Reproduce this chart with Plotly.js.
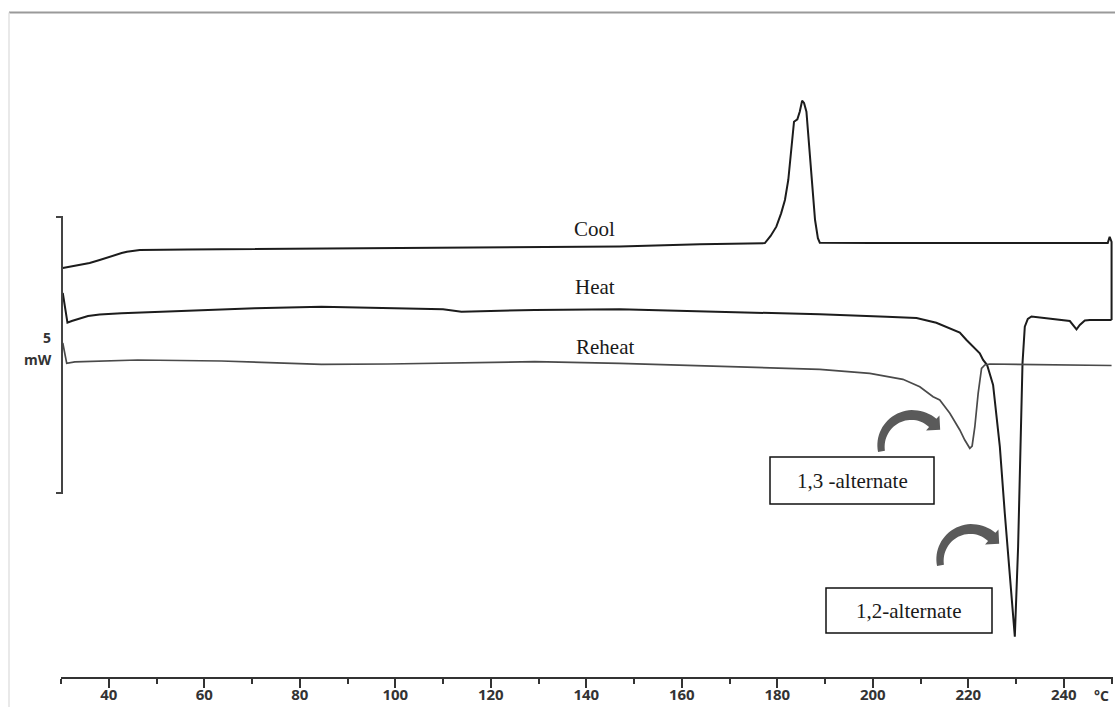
<!DOCTYPE html>
<html>
<head>
<meta charset="utf-8">
<script src="https://cdn.plot.ly/plotly-3.0.1.min.js"></script>
<style>
  html, body { margin: 0; padding: 0; background: #ffffff; }
  #chart { width: 1115px; height: 707px; }
</style>
</head>
<body>
<div id="chart"></div>
<script>
// DSC thermogram: heat, cool and reheat scans (heat flow in mW vs temperature in °C)

// Cool scan (listed by temperature; ends with the jump back to the heat trace at 250 °C)
const coolT  = [30.37, 32.9, 36.0, 38.1, 40.6, 42.7, 43.8, 46.5, 56.5, 84.5, 113.5, 130.0, 147.0, 163.8,
                176.3, 177.4, 178.6, 179.8, 180.8, 181.6, 182.3, 183.0, 183.5, 184.2, 184.7, 185.2, 185.6, 186.1,
                186.7, 187.2, 187.9, 188.5, 188.9, 200.0, 220.0, 240.0, 249.2, 249.6, 250.0, 250.0];
const coolMW = [7.41, 7.45, 7.50, 7.554, 7.627, 7.68, 7.705, 7.736, 7.745, 7.763, 7.772, 7.784, 7.80, 7.839,
                7.85, 7.86, 7.99, 8.158, 8.40, 8.641, 9.004, 9.607, 10.06, 10.103, 10.241, 10.44, 10.40, 10.241,
                9.607, 9.004, 8.283, 7.95, 7.868, 7.862, 7.86, 7.857, 7.86, 7.976, 7.88, 6.467];

// First heating scan
const heatT  = [30.37, 30.9, 31.35, 32.25, 33.9, 35.66, 38.1, 42.66, 56.6, 70.58, 84.54, 98.5, 106.0, 110.0,
                113.86, 129.2, 147.0, 167.96, 188.9, 202.87, 209.15, 213.3, 216.13, 218.22, 219.62, 221.0, 222.4,
                223.1, 223.94, 225.19, 226.6, 227.64, 228.69, 229.74, 230.43, 230.93, 231.35, 231.83, 232.46,
                233.23, 237.07, 240.56, 241.26, 242.66, 243.35, 244.4, 245.45, 250.0];
const heatMW = [6.957, 6.649, 6.418, 6.449, 6.495, 6.540, 6.567, 6.589, 6.636, 6.679, 6.708, 6.685, 6.679, 6.66,
                6.618, 6.649, 6.661, 6.618, 6.571, 6.527, 6.504, 6.418, 6.322, 6.24, 6.105, 5.978, 5.864,
                5.743, 5.652, 5.290, 4.172, 2.966, 1.757, 0.730, 2.361, 4.172, 5.683, 6.346, 6.486,
                6.531, 6.495, 6.467, 6.449, 6.299, 6.377, 6.458, 6.467, 6.467];

// Second heating scan
const reheatT  = [30.37, 30.9, 31.2, 32.9, 35.6, 46.07, 63.6, 77.49, 84.54, 98.43, 129.2, 147.0, 167.96, 188.9,
                  199.37, 206.3, 209.84, 212.62, 214.02, 216.13, 218.22, 219.26, 220.31, 220.8, 221.37, 222.06,
                  222.77, 223.46, 224.5, 237.07, 250.0];
const reheatMW = [6.051, 5.815, 5.683, 5.707, 5.712, 5.743, 5.725, 5.683, 5.665, 5.670, 5.712, 5.683, 5.634, 5.574,
                  5.502, 5.393, 5.259, 5.078, 5.018, 4.777, 4.475, 4.293, 4.143, 4.185, 4.534, 5.139,
                  5.592, 5.652, 5.670, 5.661, 5.643];

const curveNames = ['Cool', 'Heat', 'Reheat'];
const curveLabelT  = [141.8, 141.8, 144.0];
const curveLabelMW = [8.116, 7.065, 5.978];

const peakNames = ['1,3 -alternate', '1,2-alternate'];

const scaleBarMW = 5;          // height of the scale bar
const scaleBarBase = 3.333;    // where the bar starts on the heat-flow axis
const X_RANGE = [30, 250.3];
const Y_RANGE = [0, 12.047];

// plot box in pixels
const L = 61, T = 12, W = 1052, H = 665;
const px = v => (v - L) / W;          // pixel x -> paper x
const py = v => (T + H - v) / H;      // pixel y -> paper y
const mwToPaper = v => (v - Y_RANGE[0]) / (Y_RANGE[1] - Y_RANGE[0]);

// curved block arrow (centre, radius, start/end angle in screen degrees)
function curvedArrow(cx, cy, r, a0, a1, w0, w1, hw, hl) {
  const N = 30, outer = [], inner = [];
  for (let i = 0; i <= N; i++) {
    const a = (a0 + (a1 - a0) * i / N) * Math.PI / 180;
    const w = w0 + (w1 - w0) * i / N;
    outer.push([cx + (r + w / 2) * Math.cos(a), cy + (r + w / 2) * Math.sin(a)]);
    inner.push([cx + (r - w / 2) * Math.cos(a), cy + (r - w / 2) * Math.sin(a)]);
  }
  const ae = a1 * Math.PI / 180;
  const n = [Math.cos(ae), Math.sin(ae)];
  const d = [-Math.sin(ae), Math.cos(ae)];
  const P = [cx + r * n[0], cy + r * n[1]];
  const hOut = [P[0] + n[0] * hw / 2, P[1] + n[1] * hw / 2];
  const hIn  = [P[0] - n[0] * hw / 2, P[1] - n[1] * hw / 2];
  const tip  = [P[0] + d[0] * hl, P[1] + d[1] * hl];
  const pts = outer.concat([hOut, tip, hIn], inner.slice().reverse());
  return pts.map((p, i) => (i === 0 ? 'M' : 'L') + px(p[0]).toFixed(5) + ',' + py(p[1]).toFixed(5)).join(' ') + ' Z';
}

const lineDark = '#1c1c1c';
const traces = [
  { x: heatT,   y: heatMW,   mode: 'lines', name: curveNames[1], line: { color: lineDark, width: 2 } },
  { x: coolT,   y: coolMW,   mode: 'lines', name: curveNames[0], line: { color: lineDark, width: 2 } },
  { x: reheatT, y: reheatMW, mode: 'lines', name: curveNames[2], line: { color: '#4a4a4a', width: 1.7 } }
];

const serif = { family: 'Liberation Serif, Times New Roman, serif', size: 21, color: '#1a1a1a' };
const sans = { family: 'Open Sans, sans-serif', size: 15, color: '#333333', weight: 700 };
const sansBold = { family: 'Open Sans, sans-serif', size: 14, color: '#333333', weight: 700 };

const annotations = curveNames.map((t, i) => ({
  x: curveLabelT[i], y: curveLabelMW[i], xref: 'x', yref: 'y', text: t,
  showarrow: false, font: serif, xanchor: 'center', yanchor: 'middle'
}));

// peak callout boxes (pixel rectangles)
const boxes = [
  { x0: 770, x1: 934, y0: 457, y1: 504 },
  { x0: 826, x1: 992, y0: 588, y1: 633 }
];
boxes.forEach((b, i) => annotations.push({
  x: px((b.x0 + b.x1) / 2), y: py((b.y0 + b.y1) / 2), xref: 'paper', yref: 'paper',
  text: peakNames[i], showarrow: false, font: serif, xanchor: 'center', yanchor: 'middle'
}));

// scale bar label and unit, temperature unit
annotations.push(
  { x: px(53), y: py(337), xref: 'paper', yref: 'paper', text: String(scaleBarMW),
    showarrow: false, xanchor: 'right', yanchor: 'middle', font: sansBold },
  { x: px(54), y: py(359), xref: 'paper', yref: 'paper', text: 'mW',
    showarrow: false, xanchor: 'right', yanchor: 'middle', font: sansBold },
  { x: px(1101), y: py(696), xref: 'paper', yref: 'paper', text: '°C',
    showarrow: false, xanchor: 'center', yanchor: 'middle', font: { family: 'Open Sans, sans-serif', size: 14, color: '#333333', weight: 700 } }
);

const barTop = mwToPaper(scaleBarBase + scaleBarMW), barBot = mwToPaper(scaleBarBase);
const shapes = [
  // outer frame edges
  { type: 'line', xref: 'paper', yref: 'paper', x0: px(9), x1: px(1115), y0: py(12.5), y1: py(12.5), line: { color: '#9a9a9a', width: 2 } },
  { type: 'line', xref: 'paper', yref: 'paper', x0: px(9), x1: px(9), y0: py(12.5), y1: py(707), line: { color: '#e2e2e2', width: 1.5 } },
  // 5 mW scale bar
  { type: 'path', xref: 'paper', yref: 'paper',
    path: 'M' + px(56) + ',' + barTop + ' L' + px(62) + ',' + barTop + ' L' + px(62) + ',' + barBot + ' L' + px(56) + ',' + barBot,
    line: { color: '#444444', width: 2 } },
  // curved arrows pointing at the two melting peaks
  { type: 'path', xref: 'paper', yref: 'paper', path: curvedArrow(912, 446, 31, 170, 312, 7, 11, 20, 10),
    fillcolor: '#5a5a5a', line: { width: 0 } },
  { type: 'path', xref: 'paper', yref: 'paper', path: curvedArrow(971, 560, 31, 170, 312, 7, 11, 20, 10),
    fillcolor: '#5a5a5a', line: { width: 0 } }
];
boxes.forEach(b => shapes.push({
  type: 'rect', xref: 'paper', yref: 'paper', x0: px(b.x0), x1: px(b.x1), y0: py(b.y1), y1: py(b.y0),
  fillcolor: '#ffffff', line: { color: '#111111', width: 1.5 }
}));

const layout = {
  width: 1115, height: 707,
  margin: { l: L, r: 1115 - L - W, t: T, b: 707 - T - H, pad: 0 },
  paper_bgcolor: '#ffffff', plot_bgcolor: '#ffffff',
  showlegend: false,
  xaxis: {
    range: X_RANGE, showgrid: false, zeroline: false,
    showline: true, linecolor: '#333333', linewidth: 2,
    ticks: 'outside', tick0: 40, dtick: 20, ticklen: 9, tickwidth: 2, tickcolor: '#333333',
    minor: { ticks: 'outside', tick0: 30, dtick: 10, ticklen: 5, tickwidth: 2, tickcolor: '#333333' },
    tickfont: sans, ticklabelstandoff: -6
  },
  yaxis: { range: Y_RANGE, visible: false, showgrid: false, zeroline: false },
  annotations: annotations,
  shapes: shapes
};

Plotly.newPlot('chart', traces, layout, { staticPlot: true, displayModeBar: false });
</script>
</body>
</html>
